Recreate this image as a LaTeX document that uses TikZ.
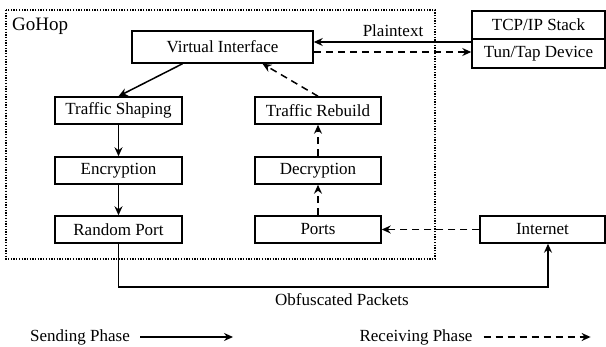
\documentclass[tikz,border=0pt]{standalone}
\usepackage{fontspec}
\setmainfont{Liberation Serif}
\usetikzlibrary{arrows.meta}
\begin{document}
\begin{tikzpicture}[x=1pt,y=-1pt,
  every node/.style={font=\fontsize{17}{20}\selectfont},
  box/.style={draw, line width=1.5pt, inner sep=0pt, minimum height=27pt},
  send/.style={line width=1.5pt, -{Stealth[length=9pt,width=8pt,inset=3pt]}},
  recv/.style={line width=1.5pt, dash pattern=on 7pt off 5pt, -{Stealth[length=9pt,width=8pt,inset=3pt]}},
  lbl/.style={inner sep=1pt}
]
\useasboundingbox (0,0) rectangle (606,347);
% GoHop dotted frame
\draw[line width=1.2pt, dash pattern=on 1.3pt off 1.4pt] (6,10) rectangle (435,259);
\node[lbl, anchor=west, font=\fontsize{19}{22}\selectfont] (gohop) at (11,26) {GoHop};

\node[box, minimum width=181pt, minimum height=32pt] (vi) at (222.5,47) {Virtual Interface};
\node[box, minimum width=127pt] (ts) at (118.5,110.5) {Traffic Shaping};
\node[box, minimum width=126pt] (tr) at (318,110.5) {Traffic Rebuild};
\node[box, minimum width=127pt] (enc) at (118.5,170.5) {Encryption};
\node[box, minimum width=126pt] (dec) at (318,170.5) {Decryption};
\node[box, minimum width=127pt] (rp) at (118.5,229.5) {Random Port};
\node[box, minimum width=126pt] (ports) at (318,229.5) {Ports};
\node[box, minimum width=133pt, minimum height=28pt] (tcp) at (538.5,25) {TCP/IP Stack};
\node[box, minimum width=133pt, minimum height=29pt] (tun) at (538.5,53.5) {Tun/Tap Device};
\node[box, minimum width=125pt] (inet) at (542.5,229.5) {Internet};

\node[lbl] (plain) at (393,31) {Plaintext};
\node[lbl] (obf) at (342,300) {Obfuscated Packets};

\coordinate (ya) at (0,42);
\coordinate (yb) at (0,52);
\coordinate (yc) at (0,287);

\draw[send] (tun.west |- ya) -- (vi.east |- ya);
\draw[recv] (vi.east |- yb) -- (tun.west |- yb);

\draw[send] ([xshift=-40pt]vi.south) -- (ts.north);
\draw[recv] (tr.north) -- ([xshift=40pt]vi.south);

\draw[send] (ts.south) -- (enc.north);
\draw[send] (enc.south) -- (rp.north);
\draw[recv] (ports.north) -- (dec.south);
\draw[recv] (dec.north) -- (tr.south);

\draw[recv] (inet.west) -- (ports.east);
\draw[send] (rp.south) -- (rp.south |- yc) -| ([xshift=5.5pt]inet.south);

% legend
\node[lbl] (sl) at (80,337) {Sending Phase};
\draw[send] ([xshift=9pt]sl.east) -- ++(93,0);
\node[lbl] (rl) at (416,337) {Receiving Phase};
\draw[recv] ([xshift=10pt]rl.east) -- ++(107,0);
\end{tikzpicture}
\end{document}
